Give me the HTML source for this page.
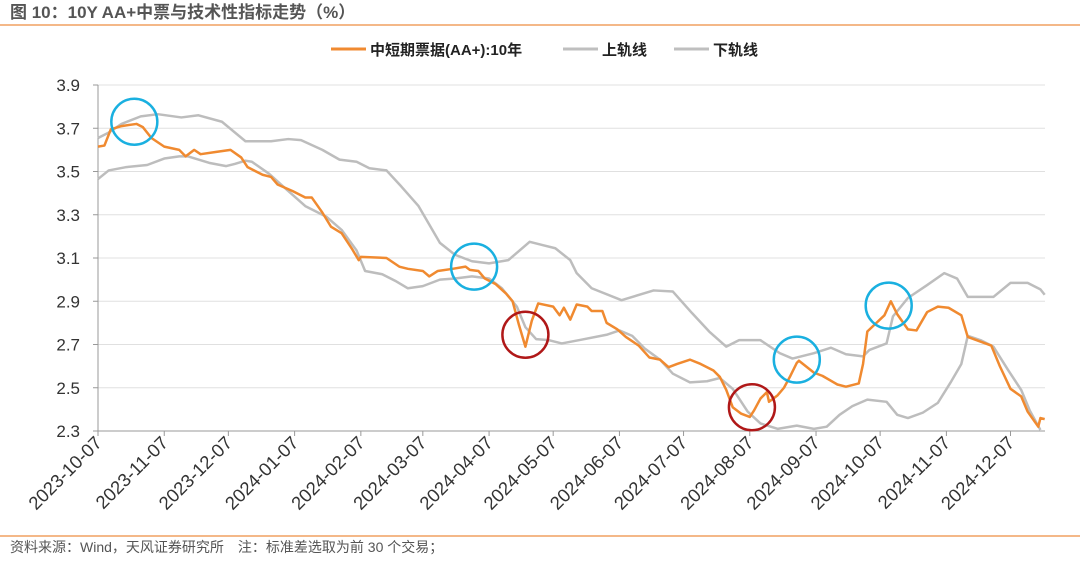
<!DOCTYPE html>
<html><head><meta charset="utf-8"><style>
body{margin:0;background:#fff;width:1080px;height:559px;overflow:hidden;font-family:"Liberation Sans","Noto Sans CJK SC",sans-serif}
svg text{font-family:"Liberation Sans","Noto Sans CJK SC",sans-serif}
</style></head><body>
<svg id="chart" width="1080" height="559">
<text x="10" y="18" font-size="17" font-weight="bold" fill="#555">图 10：10Y AA+中票与技术性指标走势（%）</text>
<line x1="0" y1="25" x2="1080" y2="25" stroke="#f0a060" stroke-width="1.5"/>
<line x1="0" y1="536" x2="1080" y2="536" stroke="#f0a060" stroke-width="1.5"/>
<text x="10" y="552" font-size="14" fill="#555">资料来源：Wind，天风证券研究所　注：标准差选取为前 30 个交易；</text>
<g>
<line x1="331" y1="49" x2="366" y2="49" stroke="#f08a30" stroke-width="3"/>
<text x="370" y="55" font-size="15" font-weight="bold" fill="#222">中短期票据(AA+):10年</text>
<line x1="563" y1="49" x2="598" y2="49" stroke="#bfbfbf" stroke-width="3"/>
<text x="602" y="55" font-size="15" font-weight="bold" fill="#222">上轨线</text>
<line x1="674" y1="49" x2="709" y2="49" stroke="#bfbfbf" stroke-width="3"/>
<text x="713" y="55" font-size="15" font-weight="bold" fill="#222">下轨线</text>
</g>
<g id="plot"></g>
</svg>
<script>
const yTicks=[2.3,2.5,2.7,2.9,3.1,3.3,3.5,3.7,3.9];
const xTickDays=[0,31,61,92,123,152,183,213,244,274,305,336,366,397,427];
const xTickLabels=["2023-10-07","2023-11-07","2023-12-07","2024-01-07","2024-02-07","2024-03-07","2024-04-07","2024-05-07","2024-06-07","2024-07-07","2024-08-07","2024-09-07","2024-10-07","2024-11-07","2024-12-07"];
const bondDays=[0,3,6,11,18,21,25,31,38,41,45,48,55,62,67,70,77,81,84,91,97,100,105,109,114,119,122,123,135,141,145,152,155,159,166,172,174,178,181,186,191,194,197,200,203,206,213,216,218,221,224,229,231,236,238,243,247,253,258,263,267,271,277,282,288,291,294,297,301,305,307,310,313,314,318,321,324,327,328,335,339,346,350,356,358,360,368,371,374,379,383,388,393,398,404,407,418,422,427,432,435,440,441,443];
const bondVals=[3.615,3.62,3.695,3.71,3.72,3.705,3.655,3.615,3.6,3.57,3.6,3.58,3.59,3.6,3.565,3.52,3.485,3.475,3.44,3.41,3.38,3.38,3.31,3.245,3.215,3.14,3.09,3.105,3.1,3.06,3.05,3.04,3.015,3.04,3.05,3.06,3.045,3.04,3.005,2.98,2.935,2.9,2.79,2.69,2.81,2.89,2.875,2.835,2.87,2.815,2.885,2.875,2.855,2.855,2.8,2.77,2.735,2.695,2.64,2.63,2.595,2.61,2.63,2.61,2.58,2.55,2.49,2.41,2.38,2.365,2.395,2.45,2.48,2.435,2.465,2.5,2.555,2.615,2.625,2.57,2.555,2.515,2.505,2.52,2.61,2.76,2.835,2.9,2.84,2.77,2.765,2.85,2.875,2.87,2.835,2.735,2.695,2.6,2.495,2.46,2.39,2.32,2.36,2.355];
const upperDays=[0,5,11,20,28,39,47,58,69,81,89,95,105,113,121,127,135,142,150,160,167,175,183,192,202,208,214,221,224,231,245,260,269,278,286,294,300,310,319,325,335,343,350,358,361,369,372,379,388,396,402,407,419,427,435,441,443];
const upperVals=[3.655,3.68,3.72,3.755,3.765,3.75,3.76,3.73,3.64,3.64,3.65,3.645,3.6,3.555,3.545,3.515,3.505,3.43,3.34,3.17,3.115,3.085,3.075,3.09,3.175,3.16,3.145,3.09,3.03,2.96,2.905,2.95,2.945,2.845,2.76,2.69,2.72,2.72,2.66,2.635,2.66,2.685,2.655,2.645,2.675,2.705,2.83,2.915,2.975,3.03,3.005,2.92,2.92,2.985,2.985,2.955,2.93];
const lowerDays=[0,5,13,23,31,38,42,52,60,64,69,72,80,89,97,107,114,121,125,133,139,145,152,160,167,175,183,189,196,200,205,211,217,225,238,244,250,256,263,269,277,285,291,297,304,310,318,327,335,341,347,353,360,369,374,379,386,393,399,404,407,413,419,426,432,436,441];
const lowerVals=[3.465,3.505,3.52,3.53,3.56,3.57,3.57,3.54,3.525,3.535,3.55,3.545,3.49,3.41,3.34,3.29,3.23,3.135,3.04,3.025,2.995,2.96,2.97,3.0,3.005,3.015,3.005,2.96,2.875,2.78,2.725,2.72,2.705,2.72,2.745,2.765,2.74,2.68,2.63,2.565,2.525,2.53,2.545,2.495,2.39,2.335,2.31,2.325,2.31,2.32,2.375,2.415,2.445,2.435,2.375,2.36,2.385,2.43,2.525,2.61,2.74,2.72,2.69,2.58,2.49,2.395,2.305];
const blueDays=[17,176,327,370];
const blueVals=[3.73,3.06,2.63,2.88];
const redDays=[200,306];
const redVals=[2.745,2.41];

const X=d=>98+d*2.137;
const Y=v=>431-(v-2.3)*216.25;
const NS="http://www.w3.org/2000/svg";
const plot=document.getElementById('plot');
function mk(t,a){const e=document.createElementNS(NS,t);for(const k in a)e.setAttribute(k,a[k]);plot.appendChild(e);return e;}
yTicks.forEach((v,i)=>{
  if(i>0){const g=mk('line',{x1:98,x2:1045,y1:Y(v),y2:Y(v),stroke:'#e0e0e0','stroke-width':1});
  
  }
  const t=mk('text',{x:80,y:Y(v)+6,'text-anchor':'end','font-size':17,fill:'#333'});
  t.textContent=v.toFixed(1);
  
  
  const tk=mk('line',{x1:93,x2:98,y1:Y(v),y2:Y(v),stroke:'#999'});
  
  
});
const ya=mk('line',{x1:98,x2:98,y1:Y(3.9),y2:431,stroke:'#999'});


const xa=mk('line',{x1:98,x2:1045,y1:431,y2:431,stroke:'#999'});


xTickDays.forEach((d,i)=>{
  const x=X(d);
  const tk=mk('line',{x1:x,x2:x,y1:431,y2:436,stroke:'#999'});
  
  
  const t=mk('text',{x:x+5,y:444,'text-anchor':'end','font-size':18.5,fill:'#333',transform:`rotate(-45 ${x+5} 444)`});
  t.textContent=xTickLabels[i];
  
  
});
function line(days,vals,color,w,name){
  const p=mk('polyline',{points:days.map((d,i)=>X(d)+','+Y(vals[i])).join(' '),fill:'none',stroke:color,'stroke-width':w,'stroke-linejoin':'round'});
  
  
}
line(upperDays,upperVals,'#bdbdbd',2.5,'upper-band-line');
line(lowerDays,lowerVals,'#bdbdbd',2.5,'lower-band-line');
line(bondDays,bondVals,'#f08a30',2.5,'bond-yield-line');
blueDays.forEach((d,i)=>{
  const c=mk('circle',{cx:X(d),cy:Y(blueVals[i]),r:23,fill:'none',stroke:'#1ab0e0','stroke-width':2.5});
  
  
});
redDays.forEach((d,i)=>{
  const c=mk('circle',{cx:X(d),cy:Y(redVals[i]),r:23,fill:'none',stroke:'#b01818','stroke-width':2.5});
  
  
});
</script>
</body></html>
